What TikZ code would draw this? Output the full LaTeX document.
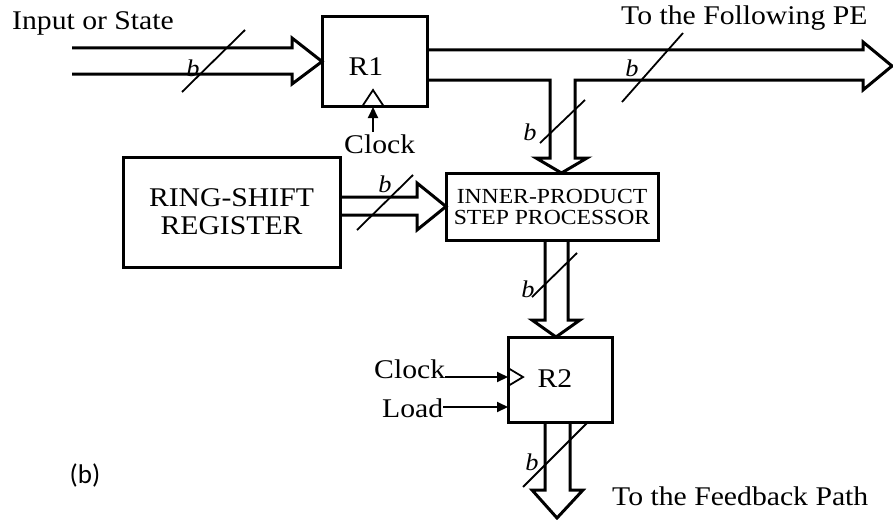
\documentclass[tikz,border=0pt]{standalone}
\usepackage{fontspec}
\setmainfont{Liberation Serif}[FakeStretch=1.1]
\newfontfamily\capfont{Carlito}
\usetikzlibrary{calc,arrows.meta}
\begin{document}
\begin{tikzpicture}[x=1pt,y=-1pt,line join=miter]
\tikzset{
  box/.style={draw, line width=3pt, inner sep=0pt, outer sep=0pt},
  bus/.style={draw, line width=3pt, line join=miter},
  slashline/.style={draw, line width=1.8pt},
  lab/.style={font=\fontsize{27}{28}\selectfont, inner sep=0pt},
  boxlab/.style={font=\fontsize{27}{28}\selectfont, align=center, inner sep=0pt},
  iplab/.style={font=\fontsize{21.5}{21}\selectfont, align=center, inner sep=0pt},
  bw/.style={font=\fontsize{24}{24}\selectfont\itshape, inner sep=0pt, anchor=base},
  sig/.style={draw, line width=2pt, -{Triangle[length=11pt,width=10pt]}},
  clk/.style={draw, line width=1.8pt, line join=miter},
}
\useasboundingbox (0,0) rectangle (893,519);

% boxes
\node[box, minimum width=105pt, minimum height=89pt] (R1) at (374.5,61.5) {};
\node[boxlab, anchor=base] (R1t) at (366,75) {R1};
\node[box, minimum width=217pt, minimum height=110pt, boxlab] (RS) at (231.5,212) {RING-SHIFT\\REGISTER};
\node[box, minimum width=212pt, minimum height=67pt, iplab] (IP) at (552,206.5) {INNER-PRODUCT\\STEP PROCESSOR};
\node[box, minimum width=104pt, minimum height=85pt] (R2) at (560,379.5) {};
\node[boxlab, anchor=base] (R2t) at (555,387) {R2};

% texts
\node[lab, anchor=base west] (tin) at (12,30) {Input or State};
\node[lab, anchor=base west] (tout) at (621,25) {To the Following PE};
\node[lab, anchor=base west] (c1) at (344,153) {Clock};
\node[lab, anchor=base west] (c2) at (374,378) {Clock};
\node[lab, anchor=base west] (ld) at (382,417) {Load};
\node[lab, anchor=base west] (tfb) at (612,505) {To the Feedback Path};
\node[font=\capfont\fontsize{27}{28}\selectfont, inner sep=0pt] (cap) at (85,475) {(b)};

% free ends
\coordinate (in) at (72,61);
\coordinate (out) at (892,66);
\coordinate (fb) at (557,518);

% input bus
\draw[bus] ($(in)+(0,-13)$) -- (292,48) -- (292,38) -- (R1.west) -- (292,84) -- (292,74) -- ($(in)+(0,13)$);

% R1 output bus with branch down to IP
\draw[bus] (R1.east |- 0,50) -- (863,50) -- (863,42) -- (out) -- (863,90) -- (863,80)
  -- (575,80) -- (575,158) -- (587,158) -- ($(IP.north)+(9.5,0)$) -- (536,158) -- (550,158) -- (550,80) -- (R1.east |- 0,80);

% RS to IP
\draw[bus] (RS.east |- 0,197) -- (417,197) -- (417,183) -- (IP.west) -- (417,230) -- (417,215) -- (RS.east |- 0,215);

% IP to R2
\draw[bus] (545,0 |- IP.south) -- (545,320) -- (532,320) -- (R2.north -| 556,0) -- (580,320) -- (568,320) -- (568,0 |- IP.south);

% R2 to feedback
\draw[bus] (545,0 |- R2.south) -- (545,490) -- (532,490) -- (fb) -- (583,490) -- (570,490) -- (570,0 |- R2.south);

% clock triangles
\draw[clk] ($(R1.south)+(-12,0)$) -- ($(R1.south)+(-1.5,-16)$) -- ($(R1.south)+(9,0)$);
\draw[clk] ($(R2.west)+(0,-11.5)$) -- ($(R2.west)+(15,-2.5)$) -- ($(R2.west)+(0,6.5)$);

% control arrows
\draw[sig] ($(R1.south)+(-1.5,26)$) -- ($(R1.south)+(-1.5,1)$);
\draw[sig] (c2.east |- 0,377) -- ($(R2.west)+(0,-2.5)$);
\draw[sig] (ld.east |- 0,407) -- ($(R2.west)+(0,27.5)$);

% width slashes and labels
\draw[slashline] (182,92) -- (245,30);
\node[bw] (b1) at (193,77) {b};
\draw[slashline] (622,102) -- (683,33);
\node[bw] (b2) at (632,77) {b};
\draw[slashline] (540,143) -- (585,100);
\node[bw] (b3) at (530,140) {b};
\draw[slashline] (357,230) -- (413,175);
\node[bw] (b4) at (385,192) {b};
\draw[slashline] (532,297) -- (577,253);
\node[bw] (b5) at (528,297) {b};
\draw[slashline] (523,487) -- (587,423);
\node[bw] (b6) at (532,470) {b};
\end{tikzpicture}
\end{document}
